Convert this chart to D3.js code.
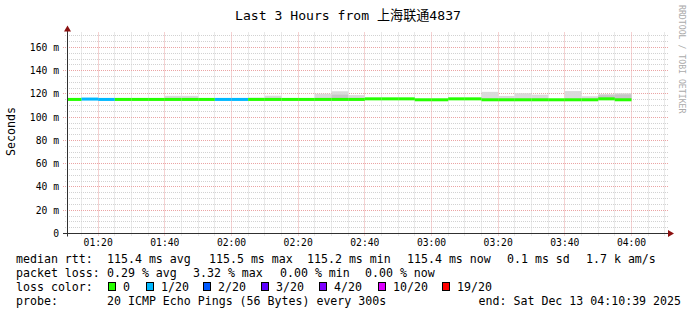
<!DOCTYPE html>
<html>
<head>
<meta charset="utf-8">
<script src="https://cdn.jsdelivr.net/npm/d3@7"></script>
<style>
    body { margin: 0; background: #fff; }
    text { font-family: "DejaVu Sans Mono", "Noto Sans CJK SC", monospace; }
</style>
</head>
<body>
<svg id="chart" width="697" height="315"></svg>
<script>
(function () {
// 5 minute rrd steps, labelled by the end of each step
const binEnds = ["01:15","01:20","01:25","01:30","01:35","01:40","01:45","01:50","01:55","02:00",
                 "02:05","02:10","02:15","02:20","02:25","02:30","02:35","02:40","02:45","02:50",
                 "02:55","03:00","03:05","03:10","03:15","03:20","03:25","03:30","03:35","03:40",
                 "03:45","03:50","03:55","04:00"];
// median rtt (ms)
const medianRtt = [115.3,115.6,115.3,115.3,115.3,115.3,115.3,115.3,115.3,115.3,
                   115.3,115.3,115.3,115.3,115.3,115.3,115.3,115.3,115.8,115.8,
                   115.8,115.0,115.0,115.8,115.8,115.0,115.0,115.0,115.0,115.0,
                   115.0,115.0,115.8,115.0];
// top of the smoke (slowest ping, ms)
const smokeTop = [115.6,115.8,115.6,115.6,115.6,115.6,118.4,118.4,115.6,115.6,
                  115.6,116.8,118.5,116.0,116.0,120.2,122.3,119.0,116.5,116.5,
                  116.5,115.3,115.3,116.5,116.5,121.8,118.3,120.6,119.4,115.3,
                  122.5,118.0,120.0,120.6];
// denser part of the smoke (ms)
const smokeMid = [115.3,115.6,115.3,115.3,115.3,115.3,115.3,115.3,115.3,115.3,
                  115.3,115.3,115.3,115.3,115.3,115.3,119.4,115.3,115.8,115.8,
                  115.8,115.0,115.0,115.8,115.8,115.0,115.0,115.0,115.0,115.0,
                  115.0,115.0,119.0,119.6];
// lost pings out of 20
const lossCount = [0,1,1,0,0,0,0,0,0,1,
                   1,0,0,0,0,0,0,0,0,0,
                   0,0,0,0,0,0,0,0,0,0,
                   0,0,0,0];

const yTicks = [0, 20, 40, 60, 80, 100, 120, 140, 160];
const lossSteps = [0, 1, 2, 3, 4, 10, 19];
const lossLabels = ["0", "1/20", "2/20", "3/20", "4/20", "10/20", "19/20"];
const lossColors = ["#26ff00", "#00b8ff", "#0059ff", "#5e00ff", "#7e00ff", "#dd00ff", "#ff0000"];

const rttStats = ["115.4 ms avg", "115.5 ms max", "115.2 ms min", "115.4 ms now", "0.1 ms sd", "1.7 k am/s"];
const lossStats = ["0.29 % avg", "3.32 % max", "0.00 % min", "0.00 % now"];

const day = "2025-12-13";
const parseT = d3.utcParse("%Y-%m-%d %H:%M:%S");
const tEnd = parseT(day + " 04:10:39");
const tStart = d3.utcHour.offset(tEnd, -3);

const svg = d3.select("#chart");

const x = d3.scaleUtc().domain([tStart, tEnd]).range([67, 667]);
const y = d3.scaleLinear().domain([0, 172]).range([233.5, 33.5]);
const px = v => Math.round(v) + 0.5;

const [plotLeft, plotRight] = x.range();
const [plotBottom, plotTop] = y.range();

// grid
const minorY = d3.range(5, 171, 5).filter(v => v % 20 !== 0);
svg.append("g").selectAll("line").data(minorY).enter().append("line")
    .attr("x1", plotLeft - 2).attr("x2", plotRight + 1)
    .attr("y1", d => px(y(d) - 0.5)).attr("y2", d => px(y(d) - 0.5))
    .attr("stroke", "#d2d2d2").attr("stroke-dasharray", "1,1");

const minorX = d3.utcMinute.every(5).range(tStart, tEnd).filter(t => t.getUTCMinutes() % 20 !== 0);
svg.append("g").selectAll("line").data(minorX).enter().append("line")
    .attr("x1", d => px(x(d) - 0.5)).attr("x2", d => px(x(d) - 0.5))
    .attr("y1", plotTop - 1).attr("y2", plotBottom + 2)
    .attr("stroke", "#d2d2d2").attr("stroke-dasharray", "1,1");

svg.append("g").selectAll("line").data(yTicks.slice(1)).enter().append("line")
    .attr("x1", plotLeft - 4).attr("x2", plotRight + 1)
    .attr("y1", d => px(y(d) - 0.5)).attr("y2", d => px(y(d) - 0.5))
    .attr("stroke", "#eba4a4").attr("stroke-dasharray", "1,1");

const majorX = d3.utcMinute.every(20).range(tStart, tEnd);
svg.append("g").selectAll("line").data(majorX).enter().append("line")
    .attr("x1", d => px(x(d) - 0.5)).attr("x2", d => px(x(d) - 0.5))
    .attr("y1", plotTop - 1).attr("y2", plotBottom + 3)
    .attr("stroke", "#eba4a4").attr("stroke-dasharray", "1,1");

// data
const bins = binEnds.map((e, i) => {
    const end = parseT(day + " " + e + ":00");
    const start = d3.utcMinute.offset(end, -5);
    return {
        start: start < tStart ? tStart : start,
        end: end,
        median: medianRtt[i],
        top: smokeTop[i],
        mid: smokeMid[i],
        loss: lossCount[i]
    };
});

const colorFor = loss => {
    let idx = 0;
    lossSteps.forEach((s, i) => { if (loss >= s) idx = i; });
    return lossColors[idx];
};

const plot = svg.append("g");

plot.selectAll(".smoke").data(bins).enter().append("rect")
    .attr("class", "smoke")
    .attr("x", d => x(d.start)).attr("width", d => x(d.end) - x(d.start))
    .attr("y", d => y(d.top)).attr("height", d => y(d.median) - y(d.top))
    .attr("fill", "#dadada");

plot.selectAll(".smoke-mid").data(bins.filter(d => d.mid > d.median)).enter().append("rect")
    .attr("class", "smoke-mid")
    .attr("x", d => x(d.start)).attr("width", d => x(d.end) - x(d.start))
    .attr("y", d => y(d.mid)).attr("height", d => y(d.median) - y(d.mid))
    .attr("fill", "#c6c6c6");

plot.selectAll(".median").data(bins).enter().append("rect")
    .attr("class", "median")
    .attr("x", d => x(d.start)).attr("width", d => x(d.end) - x(d.start))
    .attr("y", d => y(d.median) - 1.5).attr("height", 3)
    .attr("fill", d => colorFor(d.loss));

// axes
svg.append("line")
    .attr("x1", plotLeft + 0.5).attr("x2", plotLeft + 0.5)
    .attr("y1", plotBottom + 3).attr("y2", plotTop - 4)
    .attr("stroke", "#303030");
svg.append("line")
    .attr("x1", plotLeft - 4).attr("x2", plotRight + 2)
    .attr("y1", px(plotBottom - 0.5)).attr("y2", px(plotBottom - 0.5))
    .attr("stroke", "#303030");

svg.append("path")
    .attr("d", `M${plotLeft - 3},${plotTop - 2}L${plotLeft + 4},${plotTop - 2}L${plotLeft + 0.5},${plotTop - 8}Z`)
    .attr("fill", "#8b1010");
svg.append("path")
    .attr("d", `M${plotRight + 1},${plotBottom - 3.5}L${plotRight + 1},${plotBottom + 3.5}L${plotRight + 7},${plotBottom}Z`)
    .attr("fill", "#8b1010");

// labels
svg.append("g").selectAll("text").data(yTicks).enter().append("text")
    .attr("x", 59).attr("y", d => y(d) + 3.5)
    .attr("text-anchor", "end")
    .style("font-size", "9.7px")
    .text(d => d === 0 ? "0" : d + " m");

const fmt = d3.utcFormat("%H:%M");
svg.append("g").selectAll("text").data(majorX).enter().append("text")
    .attr("x", d => x(d)).attr("y", 246)
    .attr("text-anchor", "middle")
    .style("font-size", "9.7px")
    .text(d => fmt(d));

svg.append("text")
    .attr("x", 348).attr("y", 19.5)
    .attr("text-anchor", "middle")
    .style("font-size", "13.1px")
    .text("Last 3 Hours from 上海联通4837");

svg.append("text")
    .attr("transform", "translate(15,131.5) rotate(-90)")
    .attr("text-anchor", "middle")
    .style("font-size", "11.6px")
    .text("Seconds");

svg.append("text")
    .attr("transform", "translate(679,5) rotate(90)")
    .style("font-size", "8.2px")
    .attr("fill", "#aaaaaa")
    .text("RRDTOOL / TOBI OETIKER");

// legend
const legend = svg.append("g").style("font-size", "11.6px").attr("xml:space", "preserve");
const row = (yy, label) => legend.append("text").attr("x", 16).attr("y", yy).text(label);

row(263, "median rtt:");
const rttX = [107, 209, 307, 407, 507, 586];
rttStats.forEach((s, i) => legend.append("text").attr("x", rttX[i]).attr("y", 263).text(s));

row(277, "packet loss:");
const lossX = [107, 193, 280, 365];
lossStats.forEach((s, i) => legend.append("text").attr("x", lossX[i]).attr("y", 277).text(s));

row(291, "loss color:");
const boxX = [108, 146, 203, 261, 319, 378, 442];
lossLabels.forEach((s, i) => {
    legend.append("rect")
        .attr("x", boxX[i] + 0.5).attr("y", 282.5)
        .attr("width", 7).attr("height", 8)
        .attr("fill", lossColors[i]).attr("stroke", "#000");
    legend.append("text").attr("x", boxX[i] + 15).attr("y", 291).text(s);
});

row(305, "probe:");
legend.append("text").attr("x", 107).attr("y", 305).text("20 ICMP Echo Pings (56 Bytes) every 300s");
legend.append("text").attr("x", 681).attr("y", 305).attr("text-anchor", "end").text("end: Sat Dec 13 04:10:39 2025");
})();
</script>
</body>
</html>
